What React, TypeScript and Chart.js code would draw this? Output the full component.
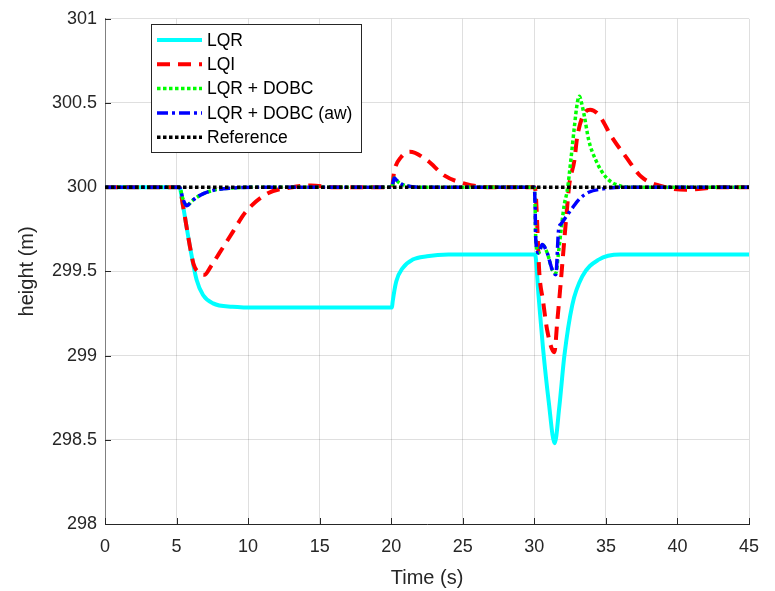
import { useEffect, useRef } from "react";
import { Chart, registerables } from "chart.js";
Chart.register(...registerables);

const seriesNames = ["LQR", "LQI", "LQR + DOBC", "LQR + DOBC (aw)", "Reference"];

const lqrTime = [0, 5.2, 5.45, 5.93, 6.4, 6.85, 7.55, 8.9, 10.8, 20.05, 20.1, 20.35, 20.8, 21.5, 22.5, 24, 30.05, 30.3, 30.6, 31.0, 31.42, 31.75, 32.1, 32.65, 33.35, 34.5, 36, 45];
const lqrHeight = [300, 300, 299.89, 299.65, 299.45, 299.36, 299.31, 299.29, 299.285, 299.285, 299.32, 299.44, 299.52, 299.57, 299.59, 299.6, 299.6, 299.35, 299.05, 298.73, 298.48, 298.7, 299.0, 299.3, 299.47, 299.57, 299.6, 299.6];

const lqiTime = [0, 5.2, 5.45, 5.93, 6.2, 6.6, 6.95, 7.4, 8.0, 8.9, 9.8, 11.3, 13.1, 14.4, 16, 20.05, 20.2, 20.7, 21.3, 22.5, 23.7, 25.2, 27, 30.0, 30.1, 30.35, 30.6, 30.9, 31.4, 31.6, 31.8, 32.0, 32.3, 32.45, 32.8, 33.0, 33.6, 33.9, 34.5, 35.4, 36.4, 37.5, 38.7, 40.6, 43, 45];
const lqiHeight = [300, 300, 299.89, 299.65, 299.54, 299.49, 299.48, 299.53, 299.61, 299.73, 299.85, 299.96, 300.0, 300.01, 300.0, 300, 300.09, 300.18, 300.21, 300.16, 300.07, 300.02, 300, 300, 299.96, 299.49, 299.33, 299.15, 299.02, 299.2, 299.39, 299.59, 299.89, 300.02, 300.16, 300.3, 300.45, 300.46, 300.43, 300.3, 300.18, 300.06, 300.01, 299.985, 300, 300];

const dobcTime = [0, 5.2, 5.45, 5.7, 6.1, 6.6, 7.5, 8.9, 11, 20.05, 20.2, 20.5, 20.9, 22, 30, 30.05, 30.1, 30.3, 30.55, 30.9, 31.25, 31.5, 31.7, 31.9, 32.1, 32.3, 32.55, 32.8, 33.0, 33.15, 33.3, 33.5, 33.8, 34.3, 35.0, 35.9, 37, 45];
const dobcHeight = [300, 300, 299.93, 299.89, 299.92, 299.95, 299.98, 299.995, 300, 300, 300.055, 300.03, 300.012, 300, 300, 299.9, 299.69, 299.61, 299.66, 299.61, 299.51, 299.49, 299.62, 299.77, 299.9, 299.98, 300.16, 300.36, 300.5, 300.54, 300.5, 300.42, 300.28, 300.16, 300.06, 300.01, 300, 300];

const awTime = [0, 5.2, 5.45, 5.7, 6.1, 6.6, 7.5, 8.9, 11, 20.05, 20.2, 20.5, 20.9, 22, 30, 30.05, 30.1, 30.3, 30.55, 30.9, 31.25, 31.5, 31.7, 31.85, 32.1, 32.6, 33.15, 33.8, 34.8, 36, 45];
const awHeight = [300, 300, 299.93, 299.89, 299.92, 299.95, 299.98, 299.995, 300, 300, 300.055, 300.03, 300.012, 300, 300, 299.9, 299.69, 299.61, 299.66, 299.61, 299.51, 299.48, 299.75, 299.78, 299.81, 299.87, 299.93, 299.97, 299.99, 300, 300];

const refTime = [0, 45];
const refHeight = [300, 300];

const xTicks = [0, 5, 10, 15, 20, 25, 30, 35, 40, 45];
const yTicks = [298, 298.5, 299, 299.5, 300, 300.5, 301];

const FONT = '"Liberation Sans", Arial, Helvetica, sans-serif';
const TEXT = "#262626";

function pts(t: number[], h: number[]) {
  return t.map((x, i) => ({ x, y: h[i] }));
}

const legendPlugin = {
  id: "matlabLegend",
  afterDraw(chart: any) {
    const ctx = chart.ctx as CanvasRenderingContext2D;
    ctx.save();
    const x0 = 151.5, y0 = 24.5, w = 210, h = 128;
    ctx.setLineDash([]);
    ctx.fillStyle = "#ffffff";
    ctx.fillRect(x0, y0, w, h);
    ctx.strokeStyle = "#262626";
    ctx.lineWidth = 1;
    ctx.strokeRect(x0, y0, w, h);
    chart.data.datasets.forEach((ds: any, i: number) => {
      const y = 40 + i * 24.3;
      ctx.beginPath();
      ctx.strokeStyle = ds.borderColor;
      ctx.lineWidth = ds.borderWidth;
      ctx.lineCap = "butt";
      ctx.setLineDash(ds.borderDash || []);
      ctx.moveTo(157, y);
      ctx.lineTo(202, y);
      ctx.stroke();
      ctx.setLineDash([]);
      ctx.fillStyle = "#000000";
      ctx.font = `17.5px ${FONT}`;
      ctx.textBaseline = "middle";
      ctx.textAlign = "left";
      ctx.fillText(ds.label, 207, y + 1);
    });
    ctx.restore();
  },
};

const tickMarkPlugin = {
  id: "innerTicks",
  beforeDatasetsDraw(chart: any) {
    const ctx = chart.ctx as CanvasRenderingContext2D;
    const { x, y } = chart.scales;
    const area = chart.chartArea;
    ctx.save();
    ctx.strokeStyle = TEXT;
    ctx.lineWidth = 1;
    ctx.setLineDash([]);
    ctx.beginPath();
    xTicks.forEach((v) => {
      const px = Math.round(x.getPixelForValue(v)) + 0.5;
      ctx.moveTo(px, area.bottom);
      ctx.lineTo(px, area.bottom - 6);
    });
    yTicks.forEach((v) => {
      const py = Math.round(y.getPixelForValue(v)) + 0.5;
      ctx.moveTo(area.left, py);
      ctx.lineTo(area.left + 6, py);
    });
    ctx.stroke();
    ctx.restore();
  },
};

export default function App() {
  const ref = useRef<HTMLCanvasElement | null>(null);
  useEffect(() => {
    document.body.style.margin = "0";
    if (!ref.current) return;
    const common = { pointRadius: 0, fill: false, cubicInterpolationMode: "monotone" as const, borderCapStyle: "butt" as const, borderJoinStyle: "round" as const };
    const chart = new Chart(ref.current, {
      type: "line",
      data: {
        datasets: [
          { label: seriesNames[0], data: pts(lqrTime, lqrHeight), borderColor: "#00ffff", borderWidth: 4, order: 5, ...common },
          { label: seriesNames[1], data: pts(lqiTime, lqiHeight), borderColor: "#ff0000", borderWidth: 4, borderDash: [13, 8], order: 4, ...common },
          { label: seriesNames[2], data: pts(dobcTime, dobcHeight), borderColor: "#00ff00", borderWidth: 3.5, borderDash: [3.5, 2.5], order: 3, ...common },
          { label: seriesNames[3], data: pts(awTime, awHeight), borderColor: "#0000ff", borderWidth: 3.5, borderDash: [11, 4, 3, 4], order: 2, ...common },
          { label: seriesNames[4], data: pts(refTime, refHeight), borderColor: "#000000", borderWidth: 3.5, borderDash: [3.5, 2.5], order: 1, ...common },
        ],
      },
      options: {
        animation: false,
        responsive: false,
        devicePixelRatio: 1,
        layout: { padding: { left: 0, right: 26, top: 15, bottom: 0 } },
        plugins: { legend: { display: false }, tooltip: { enabled: false } },
        scales: {
          x: {
            type: "linear",
            min: 0,
            max: 45,
            afterFit: (s: any) => { s.height = 67; },
            afterBuildTicks: (s: any) => { s.ticks = xTicks.map((v) => ({ value: v })); },
            ticks: { color: TEXT, font: { family: FONT, size: 18 }, padding: 12, maxRotation: 0, callback: (v: any) => String(v) },
            grid: { color: "rgba(38,38,38,0.15)", drawTicks: false },
            border: { color: "#262626", width: 1 },
            title: { display: true, text: "Time (s)", color: TEXT, font: { family: FONT, size: 20 }, padding: { top: 0, bottom: 1 } },
          },
          y: {
            type: "linear",
            min: 298,
            max: 301,
            afterFit: (s: any) => { s.width = 105; },
            afterBuildTicks: (s: any) => { s.ticks = yTicks.map((v) => ({ value: v })); },
            ticks: { color: TEXT, font: { family: FONT, size: 18 }, padding: 8, callback: (v: any) => String(Math.round(Number(v) * 10) / 10) },
            grid: { color: "rgba(38,38,38,0.15)", drawTicks: false },
            border: { color: "#808080", width: 1 },
            title: { display: true, text: "height (m)", color: TEXT, font: { family: FONT, size: 20 }, padding: { top: 15, bottom: 0 } },
          },
        },
      },
      plugins: [tickMarkPlugin, legendPlugin],
    } as any);
    return () => chart.destroy();
  }, []);
  return (
    <div style={{ position: "absolute", left: 0, top: 0, width: 775, height: 591, background: "#fff" }}>
      <canvas ref={ref} width={775} height={591} style={{ display: "block" }} />
    </div>
  );
}
